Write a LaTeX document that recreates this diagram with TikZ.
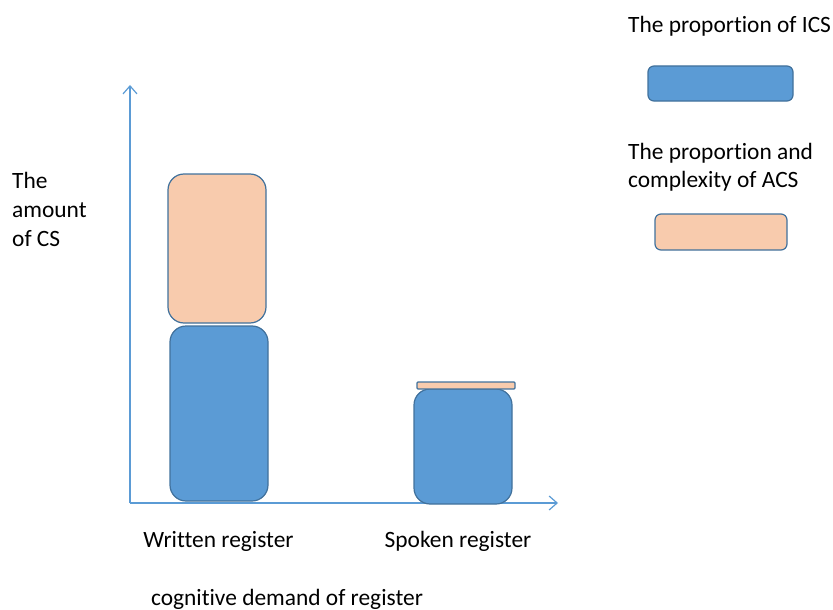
\documentclass[tikz,border=0pt]{standalone}
\usepackage{fontspec}
\setmainfont{Carlito}[Ligatures=NoCommon]
\usetikzlibrary{arrows.meta}
\definecolor{barblue}{HTML}{5B9BD5}
\definecolor{barpeach}{HTML}{F8CBAD}
\definecolor{edgeblue}{HTML}{41719C}
\tikzset{
  bar/.style={draw=edgeblue, line width=1.2pt, rounded corners=#1},
  bar/.default=16pt,
  axisline/.style={draw=barblue, line width=1.2pt, -{Straight Barb[length=8pt,width=14pt,line width=1.2pt]}},
  lbl/.style={font=\fontsize{23.4}{28}\selectfont, inner sep=0pt, text=black},
}
\begin{document}
\begin{tikzpicture}[x=1pt,y=-1pt]
\useasboundingbox (0,0) rectangle (833,610);
% axes
\coordinate (origin) at (130,503);
\coordinate (ytip) at (130,85);
\coordinate (xtip) at (558,503);
\draw[axisline] (origin) -- (ytip);
\draw[axisline] (origin) -- (xtip);
% written register column
\filldraw[bar, fill=barpeach] (168,174) rectangle (266,323);
\filldraw[bar, fill=barblue] (170,326) rectangle (268,501);
% spoken register column
\filldraw[bar, fill=barblue] (414,389) rectangle (512,504);
\filldraw[bar=1pt, fill=barpeach] (417,382) rectangle (515,389);
% legend swatches
\filldraw[bar=6pt, fill=barblue] (648,66) rectangle (793,101);
\filldraw[bar=6pt, fill=barpeach] (655,214) rectangle (787,250);
% legend labels
\node[lbl, anchor=base west] (legA) at (628,33) {The proportion of ICS};
\node[lbl, anchor=base west] (legB1) at (628,159) {The proportion and};
\node[lbl, anchor=base west] (legB2) at (628,187) {complexity of ACS};
% vertical axis label
\node[lbl, anchor=base west] (ylab1) at (12,188) {The};
\node[lbl, anchor=base west] (ylab2) at (12,217) {amount};
\node[lbl, anchor=base west] (ylab3) at (12,246) {of CS};
% horizontal axis labels
\node[lbl, anchor=base] (wr) at (218.5,547) {Written register};
\node[lbl, anchor=base] (sr) at (458,547) {Spoken register};
\node[lbl, anchor=base] (xlab) at (287,605) {cognitive demand of register};
\end{tikzpicture}
\end{document}
